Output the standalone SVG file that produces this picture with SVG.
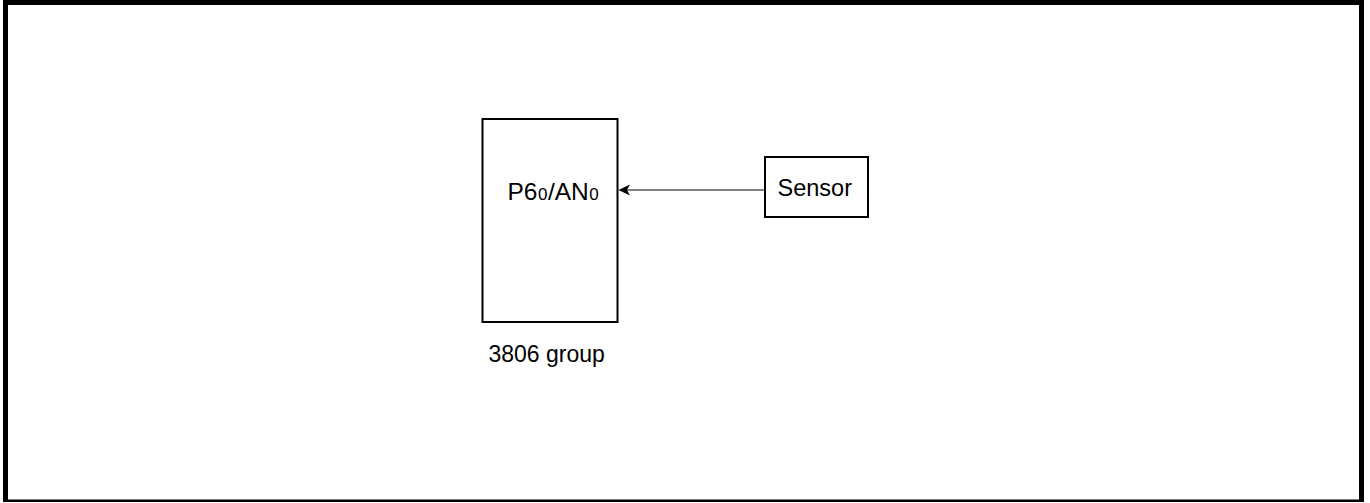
<svg xmlns="http://www.w3.org/2000/svg" width="1370" height="503" viewBox="0 0 1370 503">
<style>
.box{fill:#fff;stroke:#000;stroke-width:2}
.t{font-family:"Liberation Sans",Arial,sans-serif;font-size:23.5px;fill:#000}
.sub{font-size:17px}
.frame{stroke:#000;fill:none}
</style>
<rect x="0" y="0" width="1370" height="503" fill="#fff"/>
<g id="frame">
<line class="frame" x1="5.5" y1="0" x2="5.5" y2="502" stroke-width="5"/>
<line class="frame" x1="3" y1="2.5" x2="1364" y2="2.5" stroke-width="5"/>
<line class="frame" x1="1361.5" y1="0" x2="1361.5" y2="502" stroke-width="5"/>
<line class="frame" x1="3" y1="500.75" x2="1364" y2="500.75" stroke-width="2.5"/>
</g>
<g id="chip">
<rect class="box" x="482.5" y="119" width="135" height="203"/>
<text class="t" x="507.5" y="200" style="font-size:24.5px">P6<tspan class="sub" dx="0.5">0</tspan><tspan dx="0.5">/AN</tspan><tspan class="sub" dx="0.5">0</tspan></text>
<text class="t" x="488.5" y="362" style="font-size:23px">3806 group</text>
</g>
<g id="sensor">
<rect class="box" x="765" y="157" width="103" height="60"/>
<text class="t" x="777.5" y="195.5">Sensor</text>
</g>
<g id="connectors">
<line x1="764" y1="190" x2="622" y2="190" stroke="#000" stroke-width="1"/>
<path d="M618.5,190 L630,184.5 L627,190 L630,195.5 Z" fill="#000"/>
</g>
</svg>
